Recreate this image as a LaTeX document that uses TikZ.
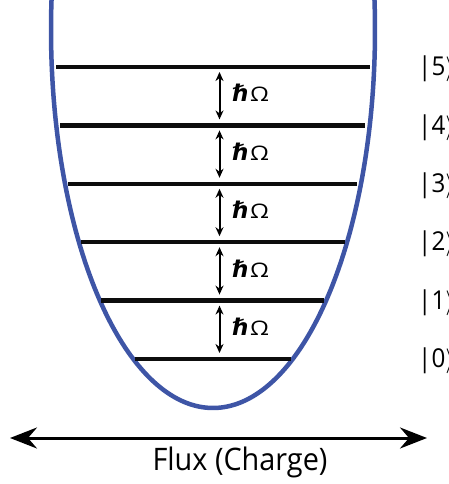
\documentclass[tikz,border=0pt]{standalone}
\usepackage{fontspec}
\setmainfont{Open Sans}[FakeStretch = 0.93]
\newfontfamily\dejavu{DejaVu Sans}
\usetikzlibrary{arrows.meta, calc}

\definecolor{wellblue}{RGB}{62,85,166}

\newcommand{\quantum}{{\dejavu\bfseries\itshape\fontsize{23}{28}\selectfont ℏ}\hspace{1pt}{\fontsize{20}{24}\selectfont\scalebox{1.3}[1]{Ω}}}

\tikzset{
  energy/.style = {line width = 4.5pt, color = black!95},
  hop/.style = {{Stealth[length = 9pt, width = 8pt]}-{Stealth[length = 9pt, width = 8pt]}, line width = 2pt},
  quanta/.style = {anchor = base west, inner sep = 0pt},
  ket/.style = {anchor = west, inner sep = 0pt, font = \fontsize{26}{30}\selectfont}
}

\begin{document}
\begin{tikzpicture}[x = 1pt, y = -1pt]
			\useasboundingbox (0,0) rectangle (448,484);
			
			% harmonic well
			\draw [wellblue, line width = 4.5pt] plot [domain = -4.55:184.55, samples = 120, smooth] ({213 + 162*cos(\x)}, {30 + 378*sin(\x)});
			
			% energy levels, 0 at the bottom
			\draw [energy] (135,359) -- (291,359);
			\draw [energy] (101,300.6) -- (324,300.6);
			\draw [energy] (81,242.2) -- (345,242.2);
			\draw [energy] (68,183.8) -- (357,183.8);
			\draw [energy] (60,125.4) -- (365,125.4);
			\draw [energy] (56,67) -- (370,67);
			
			\coordinate (E0) at (219.5,359);
			\coordinate (E1) at (219.5,300.6);
			\coordinate (E2) at (219.5,242.2);
			\coordinate (E3) at (219.5,183.8);
			\coordinate (E4) at (219.5,125.4);
			\coordinate (E5) at (219.5,67);
			
			% level spacing
			\draw [hop] ($(E5) + (0,5)$) -- ($(E4) + (0,-6)$);
			\draw [hop] ($(E4) + (0,5)$) -- ($(E3) + (0,-6)$);
			\draw [hop] ($(E3) + (0,5)$) -- ($(E2) + (0,-6)$);
			\draw [hop] ($(E2) + (0,5)$) -- ($(E1) + (0,-6)$);
			\draw [hop] ($(E1) + (0,5)$) -- ($(E0) + (0,-6)$);
			
			\node (w4) [quanta] at (232.5,102) {\quantum};
			\node (w3) [quanta] at (232.5,160.4) {\quantum};
			\node (w2) [quanta] at (232.5,218.8) {\quantum};
			\node (w1) [quanta] at (232.5,277.2) {\quantum};
			\node (w0) [quanta] at (232.5,335.6) {\quantum};
			
			% state labels
			\node (k5) [ket] at (418,69) {|5$\rangle$};
			\node (k4) [ket] at (418,127.4) {|4$\rangle$};
			\node (k3) [ket] at (418,185.8) {|3$\rangle$};
			\node (k2) [ket] at (418,244.2) {|2$\rangle$};
			\node (k1) [ket] at (418,302.6) {|1$\rangle$};
			\node (k0) [ket] at (418,361) {|0$\rangle$};
			
			% flux axis
			\coordinate (fluxL) at (10,438);
			\coordinate (fluxR) at (427,438);
			\draw [{Stealth[length = 27pt, width = 21pt, inset = 9pt]}-{Stealth[length = 27pt, width = 21pt, inset = 9pt]}, line width = 3pt] (fluxL) -- (fluxR);
			\node (flux) [font = \fontsize{31}{36}\selectfont] at (240,462) {Flux (Charge)};
			
		\end{tikzpicture}
\end{document}
